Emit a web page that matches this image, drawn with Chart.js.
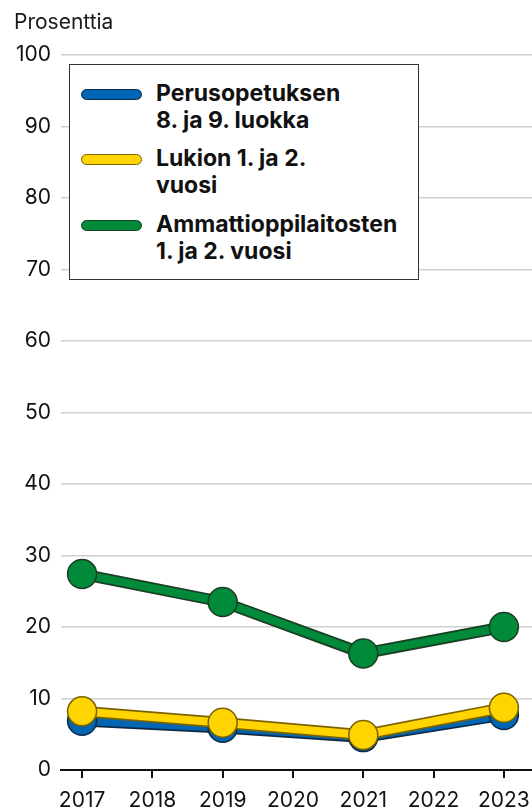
<!DOCTYPE html>
<html>
<head>
<meta charset="utf-8">
<script src="https://cdn.jsdelivr.net/npm/chart.js@4"></script>
<style>
  body { margin: 0; background: #fff; font-family: Inter, "Noto Sans", sans-serif; }
  #wrap { position: relative; width: 532px; height: 810px; }
  #otsikko { position: absolute; left: 14px; top: 9px; font-size: 21px; line-height: 25px; color: #1a1a1a; }
  #selite {
    position: absolute; left: 69px; top: 64px; width: 350px; height: 216px;
    box-sizing: border-box; border: 1.5px solid #333; background: #fff;
    padding-top: 14.5px;
  }
  .rivi { position: relative; padding-left: 86px; font-weight: 700; font-size: 23px;
          line-height: 27px; color: #111; margin-bottom: 11.5px; }
  .viiva { position: absolute; left: 11px; top: 9px; width: 61px; height: 11px;
           box-sizing: border-box; border: 1.5px solid; border-radius: 6px; }
</style>
</head>
<body>
<div id="wrap">
  <canvas id="kaavio" width="532" height="810"></canvas>
  <div id="otsikko">Prosenttia</div>
  <div id="selite"></div>
</div>
<script>
// Data luettu kuvasta
const vuodet = [2017, 2019, 2021, 2023];
const akselinVuodet = [2017, 2018, 2019, 2020, 2021, 2022, 2023];
const perusopetus = [6.9, 5.9, 4.6, 7.7];
const lukio = [8.2, 6.6, 4.9, 8.7];
const ammatti = [27.4, 23.5, 16.3, 20.0];

const sarjat = [
  { nimi: ['Perusopetuksen', '8. ja 9. luokka'], arvot: perusopetus, vari: '#0066b3', reuna: '#0c2a47' },
  { nimi: ['Lukion 1. ja 2.', 'vuosi'], arvot: lukio, vari: '#ffd400', reuna: '#7a6200' },
  { nimi: ['Ammattioppilaitosten', '1. ja 2. vuosi'], arvot: ammatti, vari: '#008a3a', reuna: '#1b3d22' }
];

// Jokaiselle sarjalle tumma "ääriviiva" + värillinen viiva päälle
const datasets = [];
sarjat.forEach((s, i) => {
  const pisteet = s.arvot.map((y, j) => ({ x: vuodet[j], y: y }));
  datasets.push({
    data: pisteet,
    borderColor: s.reuna,
    borderWidth: 11.5,
    pointRadius: 0,
    tension: 0,
    clip: false,
    order: 6 - i * 2
  });
  datasets.push({
    data: pisteet,
    borderColor: s.vari,
    borderWidth: 8,
    pointRadius: 14.5,
    pointBackgroundColor: s.vari,
    pointBorderColor: s.reuna,
    pointBorderWidth: 1.5,
    tension: 0,
    clip: false,
    order: 5 - i * 2
  });
});

// Selite HTML:nä
const selite = document.getElementById('selite');
sarjat.forEach(s => {
  const rivi = document.createElement('div');
  rivi.className = 'rivi';
  rivi.innerHTML = '<span class="viiva" style="background:' + s.vari + ';border-color:' + s.reuna + '"></span>' +
    s.nimi.join('<br>');
  selite.appendChild(rivi);
});

const fontti = { family: 'Inter', size: 21 };

new Chart(document.getElementById('kaavio'), {
  type: 'line',
  data: { datasets: datasets },
  options: {
    responsive: false,
    animation: false,
    layout: { autoPadding: false, padding: { left: 14, top: 55, right: 0, bottom: 0 } },
    plugins: { legend: { display: false }, tooltip: { enabled: false } },
    scales: {
      x: {
        type: 'linear',
        min: 2016.7,
        max: 2023.4,
        afterBuildTicks: a => { a.ticks = akselinVuodet.map(v => ({ value: v })); },
        afterFit: a => { a.height = 40; a.paddingLeft = 0; a.paddingRight = 0; },
        ticks: { callback: v => String(v), color: '#111', font: fontti, padding: 10, maxRotation: 0 },
        grid: { drawOnChartArea: false, drawTicks: true, tickLength: 8, color: '#111', lineWidth: 2 },
        border: { display: true, color: '#111', width: 2 }
      },
      y: {
        min: 0,
        max: 100,
        afterFit: a => { a.width = 47; },
        ticks: { stepSize: 10, color: '#111', font: fontti, padding: 10 },
        grid: {
          drawTicks: false,
          lineWidth: 1.5,
          color: c => c.tick && c.tick.value === 0 ? 'rgba(0,0,0,0)' : '#cfcfcf'
        },
        border: { display: false }
      }
    }
  }
});
</script>
</body>
</html>
